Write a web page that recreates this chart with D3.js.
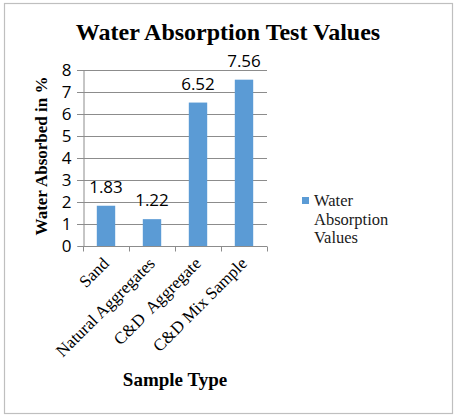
<!DOCTYPE html>
<html><head><meta charset="utf-8">
<script src="https://cdn.jsdelivr.net/npm/d3@7/dist/d3.min.js"></script>
<style>body{margin:0;background:#fff}</style>
</head><body>
<script>
const categories = ["Sand", "Natural Aggregates", "C&D  Aggregate", "C&D Mix Sample"];
const values = [1.83, 1.22, 6.52, 7.56];
const labels = ["1.83", "1.22", "6.52", "7.56"];
const yTicks = [0,1,2,3,4,5,6,7,8];
const seriesName = ["Water", "Absorption", "Values"];

const W = 458, H = 420;
const svg = d3.select("body").append("svg").attr("width", W).attr("height", H);
svg.append("rect").attr("width", W).attr("height", H).attr("fill", "#fff");
svg.append("rect").attr("x", 4.5).attr("y", 3.5).attr("width", 448).attr("height", 410)
  .attr("fill", "none").attr("stroke", "#bfbfbf").attr("stroke-width", 1.2);

const x0 = 83, x1 = 267, yTop = 70, yBot = 246;
const x = d3.scaleBand().domain(categories).range([x0, x1]).paddingInner(0.6).paddingOuter(0.3);
const y = d3.scaleLinear().domain([0, 8]).range([yBot, yTop]);
const serif = "'Liberation Serif', 'DejaVu Serif', serif";
const sans = "'Open Sans', 'Liberation Sans', sans-serif";

// gridlines
svg.append("g").selectAll("line").data(yTicks.slice(1)).join("line")
  .attr("x1", x0 - 6).attr("x2", x1).attr("y1", d => y(d) + 0.5).attr("y2", d => y(d) + 0.5)
  .attr("stroke", "#8c8c8c").attr("stroke-width", 1);

// y axis
const yAxis = svg.append("g").attr("transform", `translate(${x0 + 0.5},0)`)
  .call(d3.axisLeft(y).tickValues(yTicks).tickSize(6).tickPadding(6).tickFormat(d3.format("d")));
yAxis.selectAll("path, line").attr("stroke", "#8c8c8c");
yAxis.selectAll("text").attr("font-family", sans).attr("font-size", 17).attr("fill", "#000");

// bars
svg.append("g").selectAll("rect").data(values).join("rect")
  .attr("x", (d, i) => x(categories[i])).attr("width", x.bandwidth())
  .attr("y", d => y(d)).attr("height", d => y(0) - y(d)).attr("fill", "#5b9bd5");

// x axis
const band = d3.scaleBand().domain(categories).range([x0, x1]);
const xAxisG = svg.append("g").attr("transform", `translate(0,${yBot + 0.5})`);
xAxisG.append("line").attr("x1", x0).attr("x2", x1).attr("stroke", "#8c8c8c");
xAxisG.selectAll("line.t").data([...categories.map(c => band(c)), x1]).join("line").attr("class","t")
  .attr("x1", d => d + 0.5).attr("x2", d => d + 0.5).attr("y1", 0).attr("y2", 5).attr("stroke", "#8c8c8c");
xAxisG.selectAll("text").data(categories).join("text")
  .attr("transform", c => `translate(${x(c) + x.bandwidth() / 2 + 4},${18}) rotate(-45)`)
  .attr("text-anchor", "end").attr("font-family", serif).attr("font-size", 17).attr("fill", "#000")
  .style("white-space", "pre").attr("xml:space", "preserve")
  .text(c => c);

// data labels
svg.append("g").selectAll("text").data(values).join("text")
  .attr("x", (d, i) => x(categories[i]) + x.bandwidth() / 2).attr("y", d => y(d) - 13)
  .attr("text-anchor", "middle").attr("font-family", sans).attr("font-size", 17).attr("fill", "#000")
  .text((d, i) => labels[i]);

// title
svg.append("text").attr("x", 228).attr("y", 40).attr("text-anchor", "middle")
  .attr("font-family", serif).attr("font-weight", "bold").attr("font-size", 24).attr("fill", "#000")
  .text("Water Absorption Test Values");

// axis titles
svg.append("text").attr("transform", `translate(47,156) rotate(-90)`)
  .attr("text-anchor", "middle").attr("font-family", serif).attr("font-weight", "bold").attr("font-size", 17)
  .attr("fill", "#000").text("Water Absorbed in %");
svg.append("text").attr("x", 175).attr("y", 386).attr("text-anchor", "middle")
  .attr("font-family", serif).attr("font-weight", "bold").attr("font-size", 19).attr("fill", "#000")
  .text("Sample Type");

// legend
svg.append("rect").attr("x", 302).attr("y", 197).attr("width", 7).attr("height", 7).attr("fill", "#5b9bd5");
svg.append("g").selectAll("text").data(seriesName).join("text")
  .attr("x", 314).attr("y", (d, i) => 206 + i * 18.5)
  .attr("font-family", serif).attr("font-size", 16.5).attr("fill", "#1a1a1a").text(d => d);
</script>
</body></html>
